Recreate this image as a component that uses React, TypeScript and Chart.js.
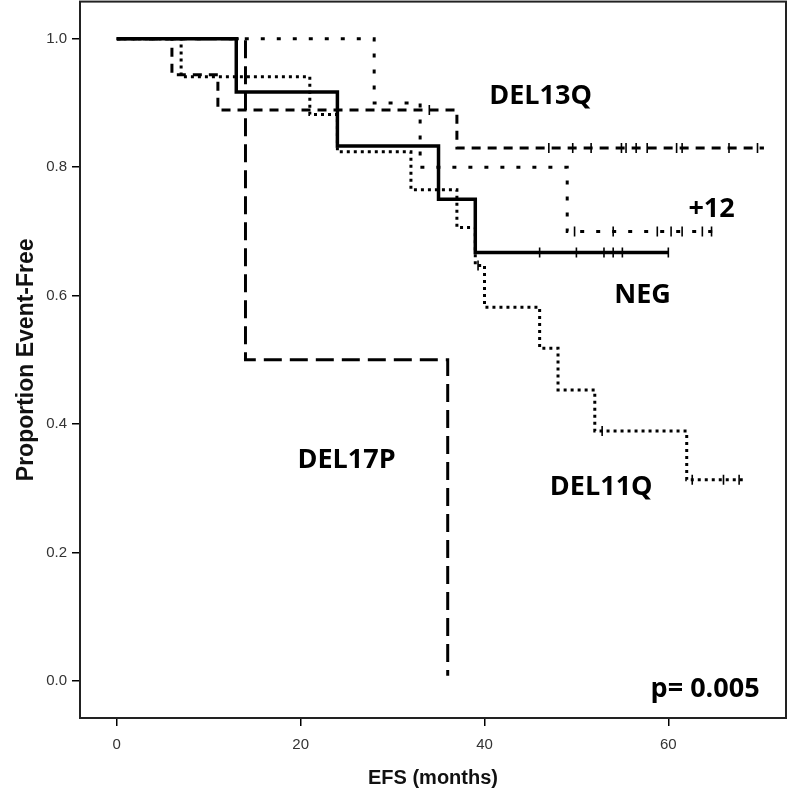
import React, { useEffect, useRef } from "react";
import { Chart, registerables } from "chart.js";

Chart.register(...registerables);

// ---- data ----
const xTickValues = [0, 20, 40, 60];
const yTickValues = [0, 0.2, 0.4, 0.6, 0.8, 1.0];

const negTimes = [0, 13, 24, 35, 39, 60];
const negSurv = [1, 0.917, 0.833, 0.75, 0.667, 0.667];
const negCensor = [46, 50, 53, 54, 55, 60];

const del13qTimes = [0, 6, 11, 37, 70.4];
const del13qSurv = [1, 0.944, 0.889, 0.83, 0.83];
const del13qCensor = [34, 47, 49.6, 51.6, 54.9, 55.4, 56.5, 57.7, 60.9, 61.5, 66.6, 69.7];

const plus12Times = [0, 28, 33, 49, 65];
const plus12Surv = [1, 0.9, 0.8, 0.7, 0.7];
const plus12Censor = [49.8, 54, 58.8, 60.3, 61.5, 63.7, 64.7];

const del11qTimes = [0, 7, 21, 24, 32, 37, 39, 40, 46, 48, 52, 62, 68.5];
const del11qSurv = [1, 0.941, 0.882, 0.824, 0.765, 0.706, 0.647, 0.582, 0.518, 0.453, 0.389, 0.313, 0.313];
const del11qCensor = [39.3, 52.8, 62.6, 66, 67.7];

const del17pTimes = [0, 14, 36];
const del17pSurv = [1, 0.5, 0.008];

const groupLabels = ["DEL13Q", "+12", "NEG", "DEL17P", "DEL11Q"];
const pValueText = "p= 0.005";

// label anchor points in data units
const labelAnchors = [
  { text: groupLabels[0], x: 46.1, y: 0.911 },
  { text: groupLabels[1], x: 64.7, y: 0.734 },
  { text: groupLabels[2], x: 57.2, y: 0.6 },
  { text: groupLabels[3], x: 25.0, y: 0.344 },
  { text: groupLabels[4], x: 52.7, y: 0.302 },
  { text: pValueText, x: 64.0, y: -0.014 },
];

function toPoints(times: number[], surv: number[]) {
  return times.map((t, i) => ({ x: t, y: surv[i] }));
}

function stepValue(times: number[], surv: number[], t: number) {
  let v = surv[0];
  for (let i = 0; i < times.length; i++) {
    if (times[i] <= t) v = surv[i];
  }
  return v;
}

function censorPoints(times: number[], surv: number[], cens: number[]) {
  return cens.map((c) => ({ x: c, y: stepValue(times, surv, c) }));
}

const narrowFont = '"Liberation Sans Narrow", "Liberation Sans", Arial, sans-serif';

export default function App() {
  const canvasRef = useRef<HTMLCanvasElement | null>(null);

  useEffect(() => {
    if (!canvasRef.current) return;

    const lineDs = (label: string, times: number[], surv: number[], dash: number[], width: number) => ({
      type: "line" as const,
      label,
      data: toPoints(times, surv),
      stepped: "before" as const,
      borderColor: "#000",
      borderWidth: width,
      borderDash: dash,
      pointRadius: 0,
      fill: false,
      tension: 0,
    });

    const censorDs = (label: string, times: number[], surv: number[], cens: number[]) => ({
      type: "scatter" as const,
      label,
      data: censorPoints(times, surv, cens),
      showLine: false,
      pointStyle: "line" as const,
      rotation: 90,
      pointRadius: 5,
      pointBorderWidth: 1.6,
      borderColor: "#000",
      backgroundColor: "#000",
    });

    const framePlugin = {
      id: "frame",
      beforeDatasetsDraw(chart: any) {
        const { ctx, chartArea } = chart;
        ctx.save();
        ctx.strokeStyle = "#222";
        ctx.lineWidth = 2;
        ctx.strokeRect(chartArea.left, chartArea.top, chartArea.right - chartArea.left, chartArea.bottom - chartArea.top);
        ctx.restore();
      },
    };

    const labelPlugin = {
      id: "groupLabels",
      afterDraw(chart: any) {
        const { ctx, scales } = chart;
        ctx.save();
        ctx.fillStyle = "#000";
        ctx.font = '700 27px "Open Sans", sans-serif';
        ctx.textAlign = "center";
        ctx.textBaseline = "middle";
        labelAnchors.forEach((a) => {
          ctx.fillText(a.text, scales.x.getPixelForValue(a.x), scales.y.getPixelForValue(a.y));
        });
        ctx.restore();
      },
    };

    const chart = new Chart(canvasRef.current, {
      type: "line",
      data: {
        datasets: [
          lineDs("NEG", negTimes, negSurv, [], 3.5),
          lineDs("DEL13Q", del13qTimes, del13qSurv, [9, 7], 3),
          lineDs("+12", plus12Times, plus12Surv, [4, 12], 3),
          lineDs("DEL11Q", del11qTimes, del11qSurv, [3, 4], 3),
          lineDs("DEL17P", del17pTimes, del17pSurv, [18, 8], 3),
          censorDs("NEG censored", negTimes, negSurv, negCensor),
          censorDs("DEL13Q censored", del13qTimes, del13qSurv, del13qCensor),
          censorDs("+12 censored", plus12Times, plus12Surv, plus12Censor),
          censorDs("DEL11Q censored", del11qTimes, del11qSurv, del11qCensor),
        ] as any,
      },
      options: {
        animation: false,
        responsive: false,
        maintainAspectRatio: false,
        layout: { padding: { top: 2, right: 14, left: 0, bottom: 0 } },
        plugins: {
          legend: { display: false },
          tooltip: { enabled: false },
        },
        scales: {
          x: {
            type: "linear",
            min: -4,
            max: 72.8,
            afterFit(scale: any) {
              scale.height = 80;
              scale.paddingLeft = 0;
              scale.paddingRight = 0;
            },
            afterBuildTicks(scale: any) {
              scale.ticks = xTickValues.map((v) => ({ value: v }));
            },
            ticks: {
              color: "#333",
              font: { family: narrowFont, size: 15 },
              padding: 10,
              callback: (v: any) => String(v),
            },
            grid: { display: true, drawOnChartArea: false, drawTicks: true, tickLength: 8, color: "#000", lineWidth: 1.5 },
            border: { display: false },
            title: {
              display: true,
              text: "EFS (months)",
              color: "#111",
              font: { family: narrowFont, size: 20, weight: "bold" },
              padding: { top: 0, bottom: 8 },
            },
          },
          y: {
            type: "linear",
            min: -0.058,
            max: 1.058,
            afterFit(scale: any) {
              scale.width = 80;
              scale.paddingTop = 0;
              scale.paddingBottom = 0;
            },
            afterBuildTicks(scale: any) {
              scale.ticks = yTickValues.map((v) => ({ value: v }));
            },
            ticks: {
              color: "#333",
              font: { family: narrowFont, size: 15 },
              padding: 5,
              callback: (v: any) => Number(v).toFixed(1),
            },
            grid: { display: true, drawOnChartArea: false, drawTicks: true, tickLength: 8, color: "#000", lineWidth: 1.5 },
            border: { display: false },
            title: {
              display: true,
              text: "Proportion Event-Free",
              color: "#111",
              font: { family: narrowFont, size: 23, weight: "bold" },
              padding: { top: 13, bottom: 0 },
            },
          },
        },
      } as any,
      plugins: [framePlugin, labelPlugin],
    });

    return () => chart.destroy();
  }, []);

  return (
    <div style={{ position: "absolute", left: 0, top: 0, width: 800, height: 798, overflow: "hidden", background: "#fff" }}>
      <canvas ref={canvasRef} width={800} height={803} style={{ display: "block", position: "absolute", left: 0, top: -5 }} />
    </div>
  );
}
